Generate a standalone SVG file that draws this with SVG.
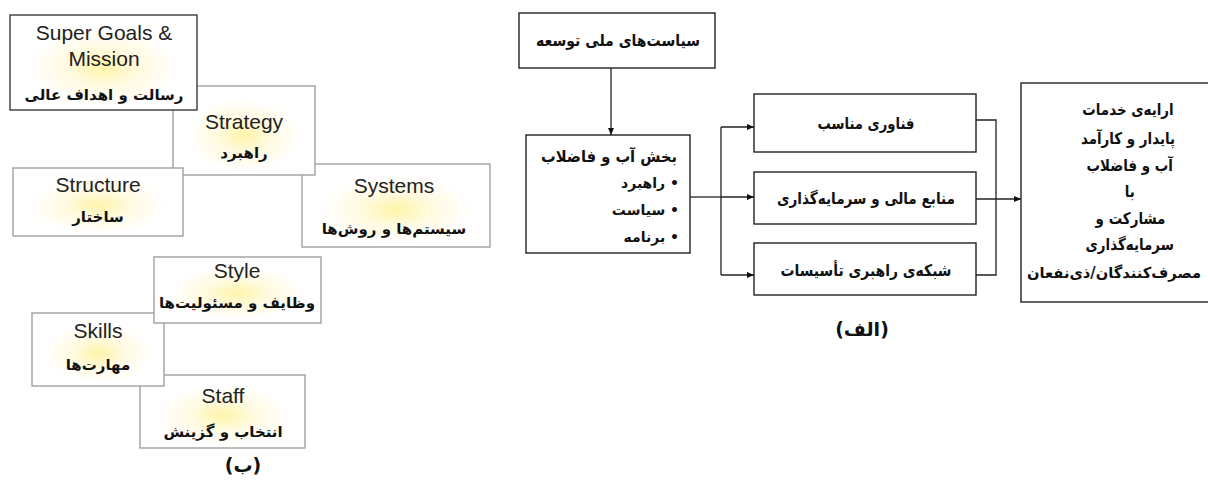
<svg xmlns="http://www.w3.org/2000/svg" width="1208" height="483" viewBox="0 0 1208 483">
<defs>
<radialGradient id="glow" cx="50%" cy="55%" r="55%">
<stop offset="0" stop-color="#fff4a8"/>
<stop offset="0.35" stop-color="#fffae0"/>
<stop offset="0.75" stop-color="#ffffff"/>
</radialGradient>
<marker id="arr" markerWidth="8" markerHeight="8" refX="7" refY="4" orient="auto" markerUnits="userSpaceOnUse">
<path d="M0,1 L7,4 L0,7 Z" fill="#111"/>
</marker>
<style>
.sbox{fill:url(#glow);stroke:#a0a0a0;stroke-width:1.4}
.sdark{stroke:#3a3a3a}
.en{font-family:"Liberation Sans",Arial,sans-serif;font-size:21px;fill:#222;text-anchor:middle}
.fa{font-family:"DejaVu Sans","Noto Sans",sans-serif;font-weight:bold;font-size:15px;fill:#111;text-anchor:middle}
.rbox{fill:#fff;stroke:#222;stroke-width:1.4}
.rt{font-family:"DejaVu Sans","Noto Sans",sans-serif;font-weight:bold;font-size:16px;fill:#111;text-anchor:middle}
.rr{text-anchor:end}
.bl{font-size:14px}
.conn{fill:none;stroke:#222;stroke-width:1.3}
.cap{font-family:"DejaVu Sans","Noto Sans",sans-serif;font-weight:bold;font-size:19px;fill:#111;text-anchor:middle}
</style>
</defs>
<rect width="1208" height="483" fill="#fff"/>

<!-- Left figure (ب) -->
<g id="systems">
<rect class="sbox" x="302" y="164" width="188" height="83"/>
<text class="en" x="394" y="193">Systems</text>
<text class="fa" x="394" y="234">سیستم‌ها و روش‌ها</text>
</g>
<g id="strategy">
<rect class="sbox" x="173" y="86" width="142" height="89"/>
<text class="en" x="244" y="129">Strategy</text>
<text class="fa" x="244" y="158">راهبرد</text>
</g>
<g id="super-goals">
<rect class="sbox sdark" x="10" y="15" width="187" height="95"/>
<text class="en" x="104" y="40">Super Goals &amp;</text>
<text class="en" x="104" y="66">Mission</text>
<text class="fa" x="104" y="100">رسالت و اهداف عالی</text>
</g>
<g id="structure">
<rect class="sbox" x="13" y="168" width="170" height="68"/>
<text class="en" x="98" y="192">Structure</text>
<text class="fa" x="98" y="222">ساختار</text>
</g>
<g id="staff">
<rect class="sbox" x="140" y="375" width="165" height="73"/>
<text class="en" x="223" y="403">Staff</text>
<text class="fa" x="223" y="437">انتخاب و گزینش</text>
</g>
<g id="skills">
<rect class="sbox" x="32" y="313" width="132" height="73"/>
<text class="en" x="98" y="338">Skills</text>
<text class="fa" x="98" y="370">مهارت‌ها</text>
</g>
<g id="style">
<rect class="sbox" x="154" y="257" width="167" height="66"/>
<text class="en" x="237" y="278">Style</text>
<text class="fa" x="237" y="308">وظایف و مسئولیت‌ها</text>
</g>
<text class="cap" x="243" y="472">(ب)</text>

<!-- Right figure (الف) -->
<g id="connectors">
<path class="conn" d="M611,68 V135" marker-end="url(#arr)"/>
<path class="conn" d="M690,197 H721"/>
<path class="conn" d="M721,127 V275"/>
<path class="conn" d="M721,127 H754" marker-end="url(#arr)"/>
<path class="conn" d="M721,197 H754" marker-end="url(#arr)"/>
<path class="conn" d="M721,275 H754" marker-end="url(#arr)"/>
<path class="conn" d="M976,120 H996 V275 H976"/>
<path class="conn" d="M976,199 H1021" marker-end="url(#arr)"/>
</g>
<g id="national-policies">
<rect class="rbox" x="519" y="13" width="196" height="55"/>
<text class="rt" x="618" y="46" textLength="164" lengthAdjust="spacingAndGlyphs">سیاست‌های ملی توسعه</text>
</g>
<g id="water-sector">
<rect class="rbox" x="526" y="135" width="164" height="118"/>
<text class="rt rr" x="677" y="162" textLength="136" lengthAdjust="spacingAndGlyphs">بخش آب و فاضلاب</text>
<text class="rt rr bl" x="679" y="188">راهبرد •</text>
<text class="rt rr bl" x="679" y="215">سیاست •</text>
<text class="rt rr bl" x="679" y="242">برنامه •</text>
</g>
<g id="technology">
<rect class="rbox" x="754" y="94" width="222" height="58"/>
<text class="rt" x="866" y="129" textLength="97" lengthAdjust="spacingAndGlyphs">فناوری مناسب</text>
</g>
<g id="finance">
<rect class="rbox" x="754" y="172" width="222" height="52"/>
<text class="rt" x="866" y="204" textLength="178" lengthAdjust="spacingAndGlyphs">منابع مالی و سرمایه‌گذاری</text>
</g>
<g id="network">
<rect class="rbox" x="754" y="243" width="222" height="52"/>
<text class="rt" x="866" y="276" textLength="171" lengthAdjust="spacingAndGlyphs">شبکه‌ی راهبری تأسیسات</text>
</g>
<g id="services">
<rect class="rbox" x="1021" y="83" width="200" height="219"/>
<g transform="translate(1128,0) scale(0.84,1)">
<text class="rt" x="0" y="115">ارایه‌ی خدمات</text>
<text class="rt" x="0" y="144">پایدار و کارآمد</text>
<text class="rt" x="2" y="171">آب و فاضلاب</text>
<text class="rt" x="2" y="197">با</text>
<text class="rt" x="3" y="224">مشارکت و</text>
<text class="rt" x="2" y="250">سرمایه‌گذاری</text>
</g>
<text class="rt rr" x="1201" y="278" style="font-size:15px" textLength="174" lengthAdjust="spacingAndGlyphs">مصرف‌کنندگان/ذی‌نفعان</text>
</g>
<text class="cap" x="862" y="336">(الف)</text>
</svg>
